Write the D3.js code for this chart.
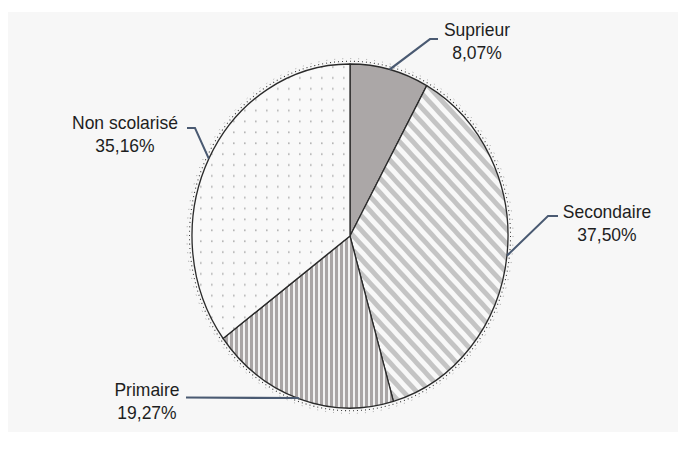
<!DOCTYPE html>
<html>
<head>
<meta charset="utf-8">
<script src="https://cdn.jsdelivr.net/npm/d3@7"></script>
<style>
  html, body { margin: 0; padding: 0; background: #ffffff; }
  svg { display: block; }
</style>
</head>
<body>
<script>
// ---- data ----
const categories = ["Suprieur", "Secondaire", "Primaire", "Non scolarisé"];
const values = [8.07, 37.50, 19.27, 35.16];
const valueLabels = ["8,07%", "37,50%", "19,27%", "35,16%"];
const patterns = ["solid", "diag", "vert", "dots"];
// label layout (screen coords): text centre x, first baseline y, leader elbow & end
const labelX = [477, 607, 147, 125];
const labelY = [36, 218, 396, 129];
const elbow = [[430, 39], [548, 216], [298, 398], [195, 128]];
const lineEnd = [[438, 39], [558, 216], [186, 397.5], [187, 128]];

const W = 686, H = 450;
const sy = 172 / 158; // vertical stretch of the original picture
const cx = 350, cy = 236, r = 158;

const svg = d3.select("body").append("svg").attr("width", W).attr("height", H);
svg.append("rect").attr("x", 8).attr("y", 12).attr("width", 670).attr("height", 420).attr("fill", "#f7f7f7");

const defs = svg.append("defs");
// diagonal stripes
const pd = defs.append("pattern").attr("id", "diag").attr("patternUnits", "userSpaceOnUse")
  .attr("width", 9.4).attr("height", 9.4).attr("patternTransform", "rotate(-45)");
pd.append("rect").attr("width", 9.4).attr("height", 9.4).attr("fill", "#f8f8f8");
pd.append("rect").attr("width", 4.7).attr("height", 9.4).attr("fill", "#c4c4c4");
// vertical stripes
const pv = defs.append("pattern").attr("id", "vert").attr("patternUnits", "userSpaceOnUse")
  .attr("width", 5).attr("height", 5);
pv.append("rect").attr("width", 5).attr("height", 5).attr("fill", "#f2f2f2");
pv.append("rect").attr("width", 3).attr("height", 5).attr("fill", "#a9a5a5");
// dots
const pt = defs.append("pattern").attr("id", "dots").attr("patternUnits", "userSpaceOnUse")
  .attr("width", 11).attr("height", 10);
pt.append("rect").attr("width", 11).attr("height", 10).attr("fill", "#f9f9f9");
pt.append("rect").attr("x", 4).attr("y", 4).attr("width", 1.6).attr("height", 1.6).attr("fill", "#b4b4b4");

const root = svg.append("g").attr("transform", `scale(1,${sy})`);
const pcy = cy / sy;

const pie = d3.pie().sort(null).value(d => d)(values);
const arc = d3.arc().innerRadius(0).outerRadius(r);

const pg = root.append("g").attr("transform", `translate(${cx},${pcy})`);

// dotted halo
pg.append("circle").attr("r", r + 2.5).attr("fill", "none")
  .attr("stroke", "#333").attr("stroke-width", 1).attr("stroke-dasharray", "1,3");
pg.append("circle").attr("r", r + 5).attr("fill", "none")
  .attr("stroke", "#555").attr("stroke-width", 0.8).attr("stroke-dasharray", "1,7").attr("opacity", 0.6);

pg.selectAll("path.slice").data(pie).join("path")
  .attr("class", "slice")
  .attr("d", arc)
  .attr("fill", (d, i) => patterns[i] === "solid" ? "#aba7a7" : `url(#${patterns[i]})`)
  .attr("stroke", "#2a2a2a").attr("stroke-width", 1.3).attr("stroke-linejoin", "round");

// leader lines
const lines = root.append("g");
pie.forEach((d, i) => {
  const a = (d.startAngle + d.endAngle) / 2;
  const p0 = [cx + r * Math.sin(a), pcy - r * Math.cos(a)];
  const pts = [p0, [elbow[i][0], elbow[i][1] / sy], [lineEnd[i][0], lineEnd[i][1] / sy]];
  lines.append("path").attr("d", d3.line()(pts))
    .attr("fill", "none").attr("stroke", "#4a5a72").attr("stroke-width", 2);
});

// labels
const lab = root.append("g")
  .attr("font-family", "'Liberation Sans', Arial, sans-serif")
  .attr("font-size", 17.5).attr("fill", "#1e1e1e").attr("text-anchor", "middle");
categories.forEach((c, i) => {
  lab.append("text").attr("x", labelX[i]).attr("y", labelY[i] / sy).text(c);
  lab.append("text").attr("x", labelX[i]).attr("y", (labelY[i] + 23) / sy).text(valueLabels[i]);
});
</script>
</body>
</html>
